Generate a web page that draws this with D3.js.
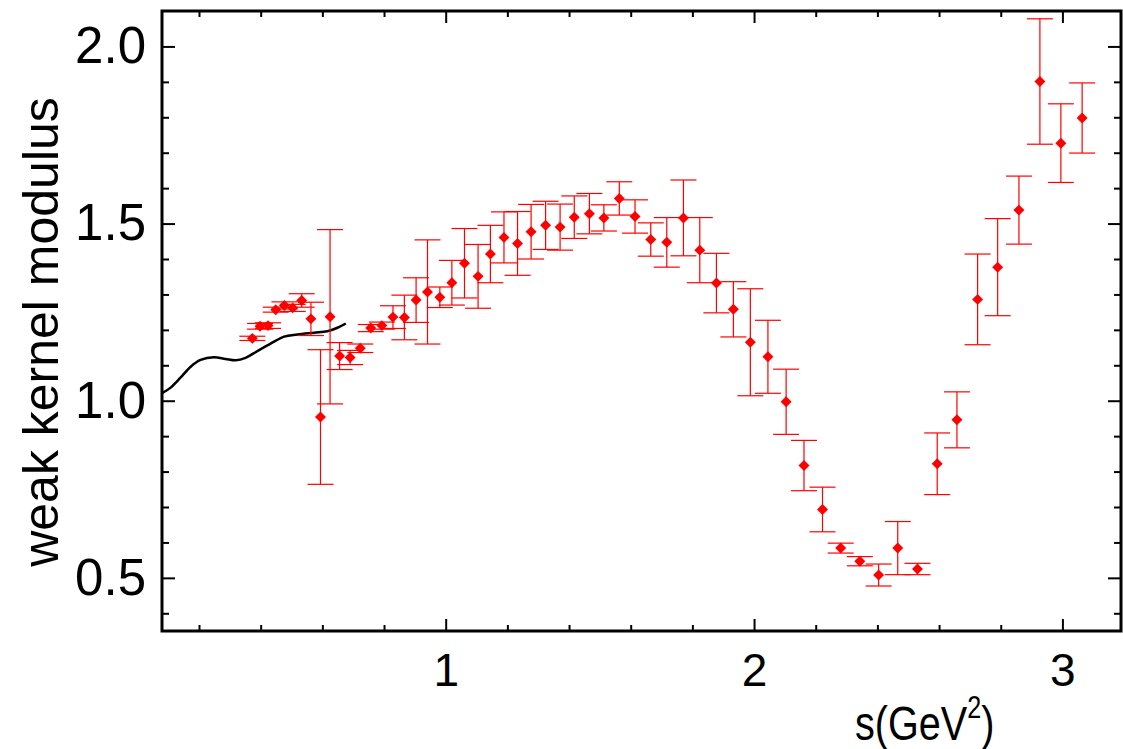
<!DOCTYPE html>
<html>
<head>
<meta charset="utf-8">
<script src="https://cdn.jsdelivr.net/npm/d3@7"></script>
<style>
  body { margin: 0; background: #fff; }
  text { font-family: "Liberation Sans", Arial, sans-serif; fill: #000; }
</style>
</head>
<body>
<div id="chart"></div>
<script>
// data
const sVals = [0.373, 0.398, 0.424, 0.449, 0.477, 0.504, 0.533, 0.563, 0.594, 0.625,
  0.656, 0.690, 0.723, 0.757, 0.793, 0.829, 0.866, 0.904, 0.941, 0.981,
  1.020, 1.061, 1.105, 1.145, 1.189, 1.233, 1.277, 1.324, 1.371, 1.417,
  1.466, 1.513, 1.563, 1.614, 1.665, 1.717, 1.771, 1.824, 1.878, 1.933,
  1.988, 2.045, 2.104, 2.162, 2.222, 2.281, 2.343, 2.404, 2.466, 2.530,
  2.594, 2.658, 2.725, 2.790, 2.859, 2.927, 2.995, 3.064];
const kernel = [1.176, 1.210, 1.212, 1.257, 1.269, 1.262, 1.283, 1.231, 0.954, 1.237,
  1.126, 1.122, 1.148, 1.205, 1.212, 1.236, 1.235, 1.284, 1.307, 1.292,
  1.333, 1.388, 1.351, 1.414, 1.461, 1.444, 1.477, 1.495, 1.490, 1.518,
  1.528, 1.516, 1.571, 1.520, 1.455, 1.447, 1.516, 1.425, 1.332, 1.258,
  1.165, 1.124, 0.997, 0.817, 0.693, 0.584, 0.547, 0.508, 0.584, 0.525,
  0.822, 0.946, 1.286, 1.377, 1.538, 1.901, 1.727, 1.798];
const kernelErr = [0.006, 0.008, 0.008, 0.007, 0.010, 0.010, 0.019, 0.047, 0.190, 0.246,
  0.038, 0.020, 0.012, 0.010, 0.010, 0.032, 0.063, 0.063, 0.147, 0.029,
  0.063, 0.098, 0.090, 0.081, 0.072, 0.090, 0.077, 0.068, 0.065, 0.060,
  0.057, 0.037, 0.047, 0.047, 0.047, 0.070, 0.107, 0.092, 0.084, 0.078,
  0.151, 0.103, 0.092, 0.071, 0.063, 0.014, 0.013, 0.031, 0.075, 0.016,
  0.087, 0.079, 0.128, 0.137, 0.096, 0.177, 0.111, 0.099];

// theory curve (black line)
const curveS = [0.08, 0.108, 0.140, 0.173, 0.205, 0.248, 0.286, 0.319, 0.351, 0.389,
  0.432, 0.476, 0.519, 0.573, 0.616, 0.649, 0.676];
const curveK = [1.021, 1.037, 1.065, 1.096, 1.115, 1.123, 1.118, 1.114, 1.121, 1.140,
  1.161, 1.181, 1.187, 1.192, 1.196, 1.206, 1.218];

const xMajor = [1, 2, 3];
const xMinor = [0.2, 0.4, 0.6, 0.8, 1.2, 1.4, 1.6, 1.8, 2.2, 2.4, 2.6, 2.8];
const yMajor = [0.5, 1.0, 1.5, 2.0];
const yMinor = [0.4, 0.6, 0.7, 0.8, 0.9, 1.1, 1.2, 1.3, 1.4, 1.6, 1.7, 1.8, 1.9];

const W = 1123, H = 749;
const m = { left: 162, right: 1121, top: 11, bottom: 631 };

const svg = d3.select("#chart").append("svg")
  .attr("width", W).attr("height", H);

const x = d3.scaleLinear().domain([0.08, 3.19]).range([m.left, m.right]);
const y = d3.scaleLinear().domain([0.35, 2.1]).range([m.bottom, m.top]);

svg.append("clipPath").attr("id", "plot-clip")
  .append("rect").attr("x", m.left).attr("y", m.top)
  .attr("width", m.right - m.left).attr("height", m.bottom - m.top);

// axes, ticks pointing inwards
function styleAxis(g) {
  g.select(".domain").remove();
  g.selectAll(".tick line").attr("stroke", "#000").attr("stroke-width", 2);
}
const noLabel = () => "";

svg.append("g").attr("transform", `translate(0,${m.bottom})`)
  .call(d3.axisBottom(x).tickValues(xMajor).tickSize(-12).tickSizeOuter(0)
    .tickPadding(22).tickFormat(d3.format("d")))
  .call(styleAxis)
  .selectAll("text").attr("font-size", 46).attr("font-family", "Liberation Sans, Arial, sans-serif");
svg.append("g").attr("transform", `translate(0,${m.bottom})`)
  .call(d3.axisBottom(x).tickValues(xMinor).tickSize(-6).tickFormat(noLabel))
  .call(styleAxis);
svg.append("g").attr("transform", `translate(0,${m.top})`)
  .call(d3.axisTop(x).tickValues(xMajor).tickSize(-12).tickFormat(noLabel))
  .call(styleAxis);
svg.append("g").attr("transform", `translate(0,${m.top})`)
  .call(d3.axisTop(x).tickValues(xMinor).tickSize(-6).tickFormat(noLabel))
  .call(styleAxis);

svg.append("g").attr("transform", `translate(${m.left},0)`)
  .call(d3.axisLeft(y).tickValues(yMajor).tickSize(-13).tickPadding(16)
    .tickFormat(d3.format(".1f")))
  .call(styleAxis)
  .selectAll("text").attr("font-size", 51).attr("font-family", "Liberation Sans, Arial, sans-serif");
svg.append("g").attr("transform", `translate(${m.left},0)`)
  .call(d3.axisLeft(y).tickValues(yMinor).tickSize(-7).tickFormat(noLabel))
  .call(styleAxis);
svg.append("g").attr("transform", `translate(${m.right},0)`)
  .call(d3.axisRight(y).tickValues(yMajor).tickSize(-13).tickFormat(noLabel))
  .call(styleAxis);
svg.append("g").attr("transform", `translate(${m.right},0)`)
  .call(d3.axisRight(y).tickValues(yMinor).tickSize(-7).tickFormat(noLabel))
  .call(styleAxis);

// frame
svg.append("rect")
  .attr("x", m.left).attr("y", m.top)
  .attr("width", m.right - m.left).attr("height", m.bottom - m.top)
  .attr("fill", "none").attr("stroke", "#000").attr("stroke-width", 3);

const plot = svg.append("g").attr("clip-path", "url(#plot-clip)");

// theory curve
const line = d3.line()
  .x((d, i) => x(curveS[i]))
  .y(d => y(d))
  .curve(d3.curveCatmullRom);
plot.append("path")
  .datum(curveK)
  .attr("d", line)
  .attr("fill", "none")
  .attr("stroke", "#000")
  .attr("stroke-width", 2.5);

// data points with error bars
const pts = sVals.map((s, i) => ({ s: s, v: kernel[i], e: kernelErr[i] }));
const capW = 13;

const bars = plot.selectAll("g.err").data(pts).enter().append("g").attr("class", "err")
  .attr("stroke", "#ff0000").attr("stroke-width", 1.2);
bars.append("line")
  .attr("x1", d => x(d.s)).attr("x2", d => x(d.s))
  .attr("y1", d => y(d.v - d.e)).attr("y2", d => y(d.v + d.e));
bars.append("line")
  .attr("x1", d => x(d.s) - capW).attr("x2", d => x(d.s) + capW)
  .attr("y1", d => y(d.v + d.e)).attr("y2", d => y(d.v + d.e));
bars.append("line")
  .attr("x1", d => x(d.s) - capW).attr("x2", d => x(d.s) + capW)
  .attr("y1", d => y(d.v - d.e)).attr("y2", d => y(d.v - d.e));

const diamond = d3.symbol().type(d3.symbolSquare).size(60);
plot.selectAll("path.pt").data(pts).enter().append("path")
  .attr("class", "pt")
  .attr("d", diamond)
  .attr("transform", d => `translate(${x(d.s)},${y(d.v)}) rotate(45)`)
  .attr("fill", "#ff0000");

// axis titles
svg.append("text")
  .attr("transform", "translate(58,332) rotate(-90)")
  .attr("text-anchor", "middle")
  .attr("font-size", 50)
  .text("weak kernel modulus");

const xt = svg.append("text")
  .attr("transform", "translate(855,740) scale(0.9,1.1)")
  .attr("font-size", 44);
xt.append("tspan").text("s(GeV");
xt.append("tspan").attr("font-size", 28).attr("dy", -20).text("2");
xt.append("tspan").attr("dy", 20).text(")");
</script>
</body>
</html>
